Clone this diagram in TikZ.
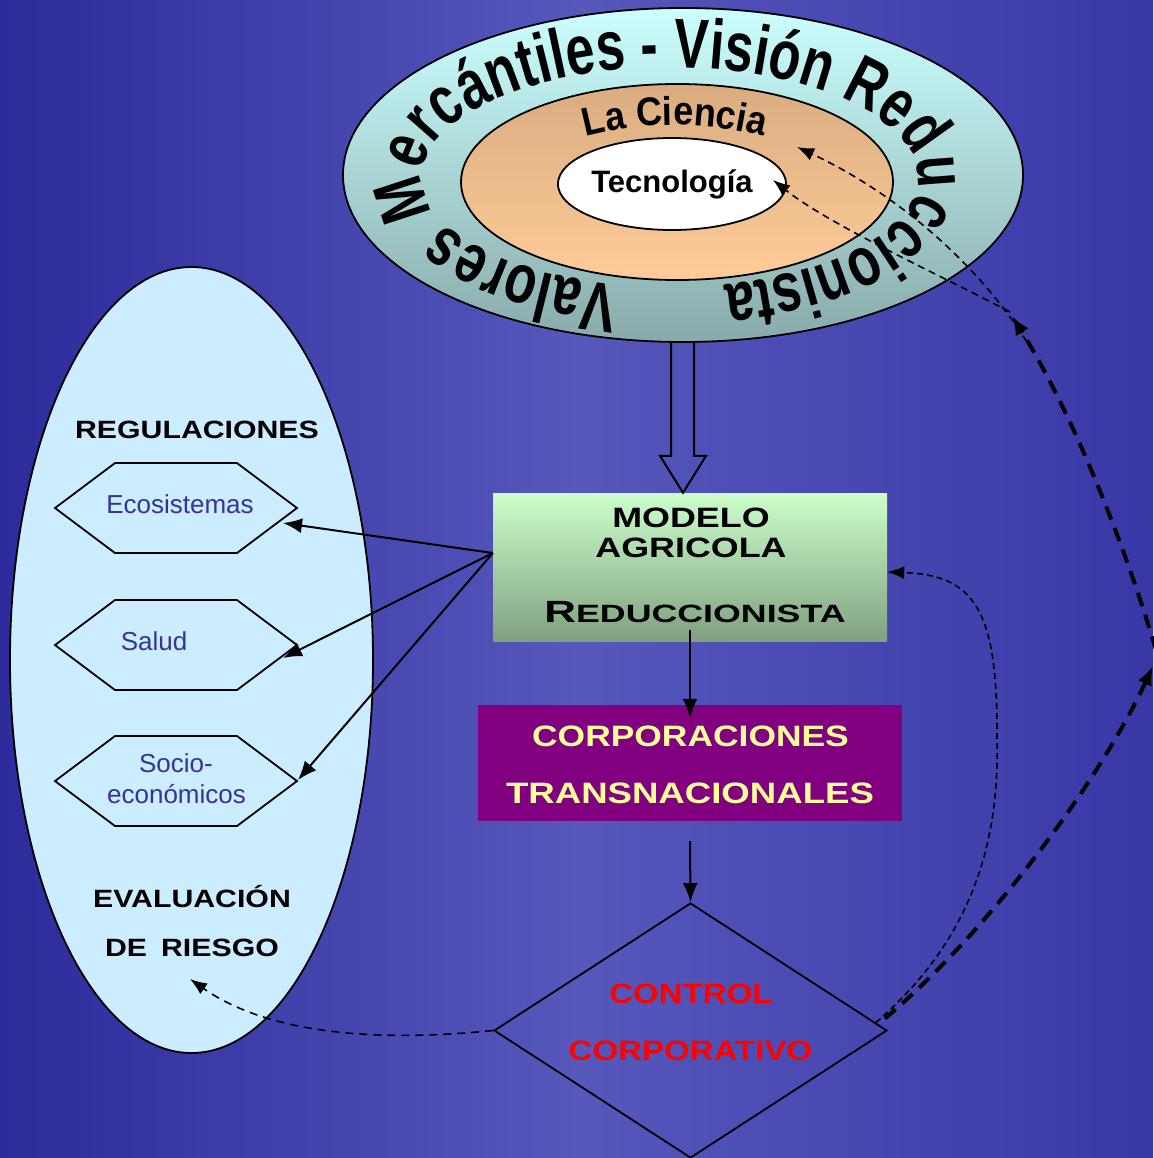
\documentclass[tikz,border=0pt]{standalone}
\usepackage{fontspec}
\setmainfont{Liberation Sans}
\newfontfamily\arialf{Liberation Sans}
\newfontfamily\wordartf[FakeStretch=0.74]{Liberation Sans}
\newfontfamily\cienciaf[FakeStretch=0.9]{Liberation Sans}
\newcommand\cpfont[2]{\fontspec[FakeStretch=#1]{Liberation Sans}\bfseries\fontsize{#2}{#2}\selectfont}
\usetikzlibrary{shapes.geometric, arrows.meta, decorations.text, calc}
\definecolor{bgL}{RGB}{45,42,155}
\definecolor{bgM}{RGB}{86,88,187}
\definecolor{bgR}{RGB}{57,55,166}
\definecolor{outerTop}{RGB}{204,255,255}
\definecolor{outerBot}{RGB}{136,170,170}
\definecolor{midTop}{RGB}{217,172,128}
\definecolor{midBot}{RGB}{255,204,153}
\definecolor{modTop}{RGB}{204,255,204}
\definecolor{modBot}{RGB}{128,160,128}
\definecolor{corpFill}{RGB}{128,0,128}
\definecolor{corpText}{RGB}{255,255,153}
\definecolor{regFill}{RGB}{204,236,255}
\definecolor{hexBlue}{RGB}{51,51,153}
\begin{document}
\begin{tikzpicture}[x=1pt,y=1pt,
  arr/.style={-{Latex[length=19pt,width=15pt]}, line width=2pt, black},
  dsh/.style={-{Latex[length=17pt,width=13pt]}, line width=1.6pt, dash pattern=on 7pt off 5pt, black},
  thk/.style={-{Latex[length=19pt,width=15pt]}, line width=4pt, dash pattern=on 14pt off 9pt, black},
  hexa/.style={draw, line width=1.8pt, line join=miter},
  lbl/.style={inner sep=0pt, anchor=base},
  hexlbl/.style={lbl, text=hexBlue, font=\arialf\fontsize{26}{26}\selectfont},
]
\useasboundingbox (0,0) rectangle (1153,-1158);
\shade[left color=bgL, right color=bgR, middle color=bgM] (0,0) rectangle (1153,-1158);

% --- top ellipses ---
\node[ellipse, draw, line width=1.8pt, top color=outerTop, bottom color=outerBot,
      minimum width=680pt, minimum height=334pt, inner sep=0pt] (outer) at (683,-175) {};
\node[ellipse, draw, line width=1.8pt, top color=midTop, bottom color=midBot,
      minimum width=432pt, minimum height=196pt, inner sep=0pt] (cien) at (677,-182) {};
\node[ellipse, draw, line width=1.8pt, fill=white, minimum width=228pt, minimum height=92pt,
      inner sep=0pt, font=\arialf\bfseries\fontsize{31}{31}\selectfont] (tec) at (672,-184) {Tecnología};

\path[decorate, decoration={text along path, text align={fit to path},
  text={|\wordartf\bfseries\fontsize{70}{70}\selectfont|Valores Mercántiles - Visión Reduccionista}}]
  ([shift={(670,-177.5)}]258:248 and 110) arc[start angle=258, end angle=-77.4, x radius=248, y radius=110];

\path[decorate, decoration={text along path, text align=center,
  text={|\cienciaf\bfseries\fontsize{40}{40}\selectfont|La Ciencia}}]
  ([shift={(675,-476)}]107:351) arc[start angle=107, end angle=73, radius=351];

% --- left ellipse ---
\node[ellipse, draw, line width=1.8pt, fill=regFill, minimum width=363pt, minimum height=786pt,
      inner sep=0pt] (reg) at (191.5,-660) {};
\node[lbl, font=\cpfont{1.21}{25}] (regT) at (197,-438) {REGULACIONES};
\node[lbl, font=\cpfont{1.21}{25}] (ev1) at (192,-907) {EVALUACIÓN};
\node[lbl, font=\cpfont{1.21}{25}] (ev2) at (192,-956) {DE\hspace{14pt}RIESGO};

\coordinate (eco) at (176,-508);
\coordinate (sal) at (176,-645);
\coordinate (soc) at (176,-781);
\foreach \h in {eco,sal,soc}{
  \draw[hexa] ($(\h)+(-121,0)$) -- ++(60,45) -- ++(122,0) -- ++(60,-45) -- ++(-60,-45) -- ++(-122,0) -- cycle;
}
\node[hexlbl] (ecoT) at (180,-513) {Ecosistemas};
\node[hexlbl] (salT) at (154,-650) {Salud};
\node[hexlbl] (socT1) at (176,-772) {Socio-};
\node[hexlbl] (socT2) at (176.5,-803) {económicos};
\coordinate (ecoA) at (283,-523);
\coordinate (salA) at (283,-658);
\coordinate (socA) at (298,-780);

% --- modelo ---
\node[rectangle, top color=modTop, bottom color=modBot, minimum width=394pt, minimum height=148pt,
      inner sep=0pt] (modelo) at (690,-567) {};
\node[lbl, font=\cpfont{1.28}{28}] (m1) at (691,-527) {MODELO};
\node[lbl, font=\cpfont{1.28}{28}] (m2) at (691,-557) {AGRICOLA};
\node[lbl, font=\cpfont{1.43}{25}] (m3) at (695,-622) {{\fontsize{30.7}{30.7}\selectfont R}EDUCCIONISTA};

% --- corporaciones ---
\node[rectangle, fill=corpFill, minimum width=424pt, minimum height=116pt, inner sep=0pt] (corp) at (690,-763) {};
\node[lbl, text=corpText, font=\cpfont{1.2}{29.5}] (c1) at (690.5,-746) {CORPORACIONES};
\node[lbl, text=corpText, font=\cpfont{1.24}{29.5}] (c2) at (690,-803) {TRANSNACIONALES};

% --- control ---
\node[diamond, draw, line width=1.8pt, minimum width=393pt, minimum height=255pt, inner sep=0pt] (ctrl) at (690.5,-1030.5) {};
\node[lbl, text=red, font=\cpfont{1.18}{28}] (k1) at (691,-1003) {CONTROL};
\node[lbl, text=red, font=\cpfont{1.18}{28}] (k2) at (690.5,-1060) {CORPORATIVO};

% --- hollow arrow ---
\coordinate (ha) at (outer.south);
\coordinate (hb) at (ha |- modelo.north);
\draw[line width=2pt, line join=miter] ($(ha)+(-12,1)$) -- ($(hb)+(-12,37)$) -- ($(hb)+(-23,37)$) -- (hb)
  -- ($(hb)+(23,37)$) -- ($(hb)+(11,37)$) -- ($(ha)+(11,1)$);

% --- solid arrows ---
\draw[arr] ([yshift=14pt]modelo.west) -- (ecoA);
\draw[arr] ([yshift=14pt]modelo.west) -- (salA);
\draw[arr] ([yshift=14pt]modelo.west) -- (socA);
\draw[arr] ([yshift=11pt]modelo.south) -- ([yshift=-13pt]corp.north);
\draw[arr] ([yshift=-20pt]corp.south) -- (ctrl.north);

% --- dashed connectors ---
\coordinate (evalA) at (190,-979);
\coordinate (modA) at ($(modelo.east)+(0,-5)$);
\coordinate (edgeIn) at (1153,-666);
\coordinate (edgeOut) at (1156,-650);
\coordinate (tipT) at (1012,-316);
\coordinate (jA) at (1033,-352);
\coordinate (jB) at (1010,-312);
\coordinate (cienA) at (797,-147);
\coordinate (tecA) at ($(tec.east)+(-14,4)$);

\draw[dsh, dash pattern=on 8pt off 6pt] (ctrl.west) .. controls (380,-1042) and (270,-1035) .. (evalA);
\draw[dsh, dash pattern=on 6pt off 4pt] ($(ctrl.east)+(-12,8)$)
  .. controls (960,-950) and (1000,-860) .. (997,-740)
  .. controls (998,-610) and (975,-575) .. (modA);
\draw[thk] ($(ctrl.east)+(-3,12)$) .. controls (990,-930) and (1100,-780) .. (edgeIn);
\draw[thk] (edgeOut) .. controls (1125,-545) and (1072,-412) .. (tipT);
\draw[dsh] (jA) .. controls (985,-270) and (900,-195) .. (cienA);
\draw[dsh] (jB) .. controls (930,-270) and (830,-225) .. (tecA);
\end{tikzpicture}
\end{document}
